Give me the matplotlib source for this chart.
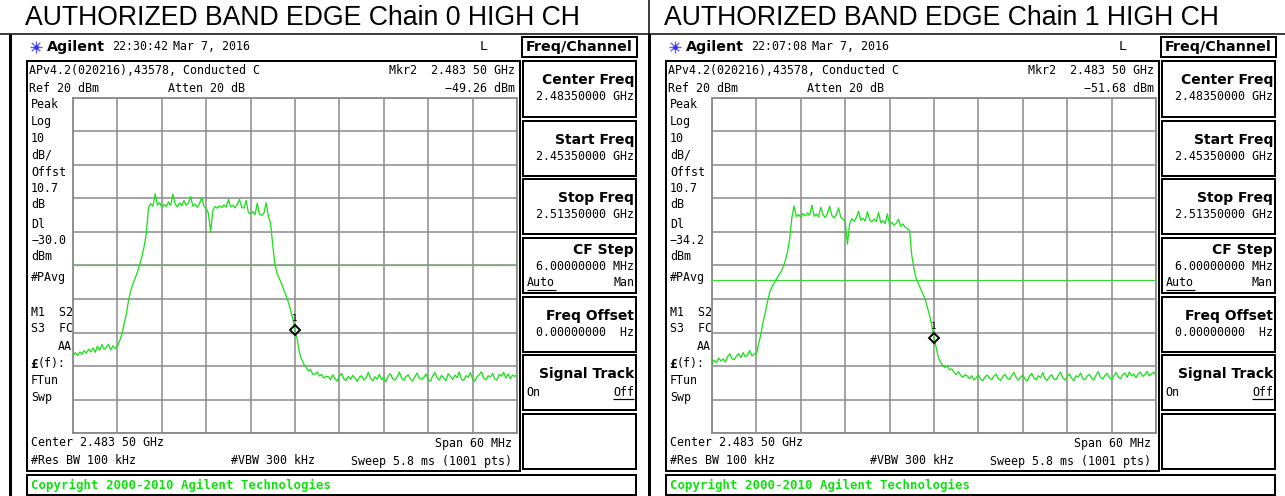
import matplotlib
matplotlib.use('Agg')
import matplotlib.pyplot as plt
import numpy as np
from matplotlib.patches import Rectangle

W, H, DPI = 1285, 496, 100

# ---------------- data ----------------
titles = ["AUTHORIZED BAND EDGE Chain 0 HIGH CH", "AUTHORIZED BAND EDGE Chain 1 HIGH CH"]
times = ["22:30:42", "22:07:08"]
dates = ["Mar 7, 2016", "Mar 7, 2016"]
display_lines = [-30.0, -34.2]
marker_levels = [-49.26, -51.68]
marker_freq = 2483.5          # MHz
start_freq, stop_freq = 2453.5, 2513.5   # MHz
ref_level, db_per_div = 20, 10
span_divs = 10

side_labels = ["Peak", "Log", "10", "dB/", "Offst", "10.7", "dB", "Dl",
               "DL_VALUE", "dBm", "#PAvg", "M1  S2", "S3  FC", "AA", "£(f):", "FTun", "Swp"]
softkey_labels = ["Center Freq", "Start Freq", "Stop Freq", "CF Step",
                  "Freq Offset", "Signal Track", ""]
softkey_values = ["2.48350000 GHz", "2.45350000 GHz", "2.51350000 GHz",
                  "6.00000000 MHz", "0.00000000  Hz", "", ""]

# trace levels (dBm), evenly spaced sweep points from start to stop
chain0 = [
    -57.2, -56.0, -56.8, -55.9, -56.5, -55.4, -56.2, -55.0, -55.8, -54.6,
    -55.9, -54.1, -55.3, -53.6, -55.0, -54.4, -53.5, -55.2, -54.0, -54.8,
    -54.2, -52.5, -50.5, -47.5, -44.5, -40.5, -37.5, -35.5, -33.8, -32.0,
    -29.8, -27.5, -24.5, -20.5, -12.8,
    -11.5, -12.3, -8.6, -12.0, -11.2, -12.6, -11.8, -12.4, -11.0, -12.1,
    -8.7, -11.6, -12.5, -11.3, -12.2, -10.6, -12.0, -11.4, -9.4, -12.3,
    -11.7, -12.6, -11.5, -9.6, -12.4, -12.8, -14.5, -20.0, -13.5, -12.4,
    -12.9, -12.2, -12.7, -11.9, -12.6, -10.2, -12.5, -12.0, -12.8, -11.7,
    -10.3, -12.6, -12.9, -10.6, -14.2, -14.6, -13.9, -14.8, -11.4, -14.7,
    -15.0, -14.4, -11.3, -15.2,
    -17.5, -24.0, -30.0, -32.5, -34.0, -35.5, -37.3, -39.0, -41.0, -43.2,
    -45.8, -49.26, -52.0, -56.0, -58.0, -59.5, -60.3, -61.5, -61.0, -62.5,
    -62.4, -61.8, -63.0, -62.5, -63.6, -63.1,
    -63.2, -64.1, -62.6, -63.8, -64.5, -63.0, -62.2, -63.9, -64.3, -63.1,
    -64.0, -62.8, -63.6, -64.6, -63.3, -62.9,
    -64.2, -63.5, -61.9, -63.7, -64.4, -63.2, -63.9, -62.5, -64.1, -63.4,
    -64.7, -63.0, -62.3, -63.8, -64.2, -63.3, -61.8, -63.6, -64.3, -63.1,
    -62.6, -63.9, -64.5, -63.2, -62.1, -63.7, -64.0, -63.4, -62.4, -63.9,
    -64.6, -63.0, -61.9, -63.5, -64.2, -62.8, -63.6, -64.4, -62.3, -63.1,
    -64.0, -62.7, -63.5, -61.8, -63.9, -64.3, -62.9, -63.4, -62.0, -63.8,
    -64.5, -63.2, -62.6, -61.7, -63.7, -64.1, -62.9, -63.3, -62.2, -63.9,
    -64.2, -62.5, -63.0, -61.9, -63.6, -62.4, -63.8, -62.7, -63.1, -62.6,
]
chain1 = [
    -59.2, -58.3, -59.0, -57.6, -58.5, -57.9, -58.8, -57.2, -56.4, -57.8,
    -58.1, -57.0, -56.3, -57.5, -56.0, -57.3, -56.6, -55.4, -57.0, -56.5,
    -56.4, -53.5, -50.5, -47.0, -44.0, -40.8, -38.0, -36.4, -35.2, -34.0,
    -33.0, -32.0, -30.5, -28.6, -26.0, -22.0, -15.5,
    -12.2, -15.4, -14.8, -15.6, -14.5, -15.2, -14.3, -15.0, -12.0, -15.3,
    -14.6, -15.5, -12.6, -14.9, -15.7, -14.4, -12.3, -15.1, -15.8, -14.9,
    -12.8, -15.6, -16.2, -17.0, -23.6, -17.5, -16.0, -16.8, -15.7, -13.8,
    -16.5, -15.9, -16.7, -14.0, -16.3, -17.0, -16.1, -16.9, -14.2, -17.2,
    -16.6, -17.5, -14.6, -17.8, -17.1, -18.0, -17.4, -16.2, -18.3, -17.6,
    -18.6, -18.9,
    -19.5, -27.0, -31.0, -34.0, -35.5, -37.0, -38.5, -40.0, -42.5, -44.8,
    -48.0, -51.68, -54.5, -57.5, -59.0, -59.8, -60.5, -60.0, -61.2, -60.8,
    -61.9, -62.5, -61.7, -62.8, -63.4, -62.6,
    -63.0, -63.8, -62.9, -64.2, -63.5, -62.6, -63.9, -64.4, -63.2, -62.7,
    -63.6, -64.1, -63.0, -62.4, -63.8, -64.3,
    -63.1, -62.5, -63.7, -64.0, -62.8, -61.9, -63.4, -64.2, -63.3, -62.7,
    -63.9, -64.5, -63.0, -62.2, -63.6, -64.1, -62.9, -63.5, -62.0, -63.8,
    -64.3, -63.2, -62.6, -63.9, -64.0, -62.8, -61.8, -63.5, -64.2, -63.1,
    -62.4, -63.7, -64.4, -62.9, -63.3, -62.1, -63.8, -64.1, -63.0, -62.5,
    -63.6, -64.2, -62.7, -61.7, -63.4, -63.9, -62.8, -62.2, -63.5, -64.0,
    -62.9, -61.9, -63.3, -63.8, -62.6, -62.1, -63.4, -61.8, -63.0, -62.4,
    -63.5, -62.2, -61.9, -63.1, -62.5, -61.6, -63.0, -62.3, -61.9, -62.7,
]
traces = [chain0, chain1]

# ---------------- style ----------------
MONO = 'DejaVu Sans Mono'
SANS = 'DejaVu Sans'
FS = 8.4
GREEN = '#1fe01f'
DLGREEN = '#3ad83a'
GRIDC = '#8a8a8a'

fig = plt.figure(figsize=(W / DPI, H / DPI), dpi=DPI)
ov = fig.add_axes([0, 0, 1, 1])
ov.set_xlim(0, W)
ov.set_ylim(H, 0)
ov.axis('off')
ov.set_zorder(0)


def line(x0, y0, x1, y1, lw=1.0, c='black'):
    ov.plot([x0, x1], [y0, y1], color=c, lw=lw * 0.72, solid_capstyle='butt')


def box(x0, y0, x1, y1, lw=2.0):
    ov.add_patch(Rectangle((x0, y0), x1 - x0, y1 - y0, fill=False,
                           ec='black', lw=lw * 0.72))


def txt(x, y, s, ha='left', size=FS, weight='normal', family=MONO, color='black'):
    return ov.text(x, y, s, ha=ha, va='center', fontsize=size,
                   fontweight=weight, family=family, color=color)


fit_list = []

# outer table lines
line(0, 34, W, 34, lw=1.5)
line(648.5, 0, 648.5, H, lw=1.5)
line(10, 34, 10, H, lw=3)
line(648.5, 34, 648.5, H, lw=3)

for p, ox in enumerate([0, 639]):
    # title
    t = txt(ox + 25, 18, titles[p], family='Liberation Sans', size=19)
    fit_list.append((t, 556))

    # header row
    cx, cy = ox + 36, 47
    for a in np.deg2rad(np.arange(0, 360, 45)):
        line(cx + 2 * np.cos(a), cy + 2 * np.sin(a), cx + 6 * np.cos(a),
             cy + 6 * np.sin(a), lw=1.3, c='#5a5aff')
    ov.plot([cx], [cy], 'o', ms=2.5, color='#3030ff')
    t = txt(ox + 47, 47, "Agilent", family=SANS, weight='bold', size=9.6)
    fit_list.append((t, 58))
    txt(ox + 112, 47, times[p])
    txt(ox + 173, 47, dates[p])
    txt(ox + 480, 47, "L", size=9.5)
    box(ox + 522, 37, ox + 637, 57)
    t = txt(ox + 579.5, 47, "Freq/Channel", ha='center', family=SANS,
            weight='bold', size=10)
    fit_list.append((t, 106))

    # main box
    box(ox + 27, 61, ox + 520, 471)
    txt(ox + 29, 70, "APv4.2(020216),43578, Conducted C")
    txt(ox + 515, 70, "Mkr2  2.483 50 GHz", ha='right')
    txt(ox + 29, 88, f"Ref {ref_level} dBm")
    txt(ox + 168, 88, "Atten 20 dB")
    txt(ox + 515, 88, f"{marker_levels[p]:.2f} dBm".replace('-', '\u2212'), ha='right')

    ys = [104, 122, 138, 155, 173, 188, 204, 225, 241, 256, 278,
          312, 329, 347, 364, 381, 398]
    for lab, y in zip(side_labels, ys):
        if lab == "DL_VALUE":
            lab = f"{display_lines[p]:.1f}".replace('-', '\u2212')
        if lab == "AA":
            txt(ox + 72, y, lab, ha='right')
        elif lab == "£(f):":
            ov.text(ox + 30, y, "£", ha='left', va='center', fontsize=9.2,
                    fontweight='bold', family=MONO)
            txt(ox + 38, y, "(f):")
        else:
            txt(ox + 31, y, lab)

    txt(ox + 31, 443, "Center 2.483 50 GHz")
    txt(ox + 512, 443, "Span 60 MHz", ha='right')
    txt(ox + 31, 461, "#Res BW 100 kHz")
    txt(ox + 231, 461, "#VBW 300 kHz")
    txt(ox + 512, 461, "Sweep 5.8 ms (1001 pts)", ha='right')

    # softkeys
    tops = [61, 121, 179, 238, 297, 355, 414]
    bots = [117, 176, 234, 293, 352, 410, 469]
    for lab, val, t0, b0 in zip(softkey_labels, softkey_values, tops, bots):
        box(ox + 523, t0, ox + 636, b0)
        if lab == "CF Step":
            txt(ox + 634, t0 + 12, lab, ha='right', family=SANS, weight='bold', size=10)
            txt(ox + 634, t0 + 28, val, ha='right')
            txt(ox + 527, t0 + 45, "Auto")
            line(ox + 527, t0 + 52, ox + 556, t0 + 52, lw=1.2)
            txt(ox + 634, t0 + 45, "Man", ha='right')
            continue
        if lab:
            txt(ox + 634, t0 + 19, lab, ha='right', family=SANS, weight='bold', size=10)
        if val:
            txt(ox + 634, t0 + 36, val, ha='right')
        if lab == "Signal Track":
            txt(ox + 526, t0 + 37, "On")
            txt(ox + 634, t0 + 37, "Off", ha='right')
            line(ox + 613, t0 + 44, ox + 634, t0 + 44, lw=1.2)

    # copyright
    box(ox + 27, 475, ox + 636, 495)
    txt(ox + 31, 485, "Copyright 2000-2010 Agilent Technologies",
        weight='bold', size=8.9, color='#10e010')

    # ---------- graticule ----------
    ax = fig.add_axes([(ox + 73) / W, (H - 433) / H, 444 / W, 335 / H])
    ax.set_zorder(2)
    bottom = ref_level - 10 * db_per_div
    ax.set_xlim(start_freq, stop_freq)
    ax.set_ylim(bottom, ref_level)
    step = (stop_freq - start_freq) / span_divs
    ax.set_xticks([start_freq + step * k for k in range(span_divs + 1)])
    ax.set_yticks([bottom + db_per_div * k for k in range(11)])
    ax.tick_params(length=0, labelbottom=False, labelleft=False)
    ax.grid(True, color=GRIDC, lw=1.1)
    for s in ax.spines.values():
        s.set_color(GRIDC)
        s.set_linewidth(1.3)

    lv = traces[p]
    freqs = np.linspace(start_freq, stop_freq, len(lv))
    ax.axhline(display_lines[p], color=DLGREEN, lw=0.9, zorder=3)
    ax.plot(freqs, lv, color=GREEN, lw=0.95, zorder=4)
    ax.plot([marker_freq], [marker_levels[p]], marker='D', ms=5.5, mfc='none',
            mec='black', mew=1.4, zorder=5)
    ax.annotate("1", (marker_freq, marker_levels[p]), xytext=(0, 8.5),
                textcoords='offset points', ha='center', va='center',
                fontsize=6.5, family=MONO, zorder=6)

# fit widths of some texts
fig.canvas.draw()
r = fig.canvas.get_renderer()
for t, target in fit_list:
    w = t.get_window_extent(r).width
    t.set_fontsize(t.get_fontsize() * target / w)

fig.savefig('out.png', dpi=DPI)
